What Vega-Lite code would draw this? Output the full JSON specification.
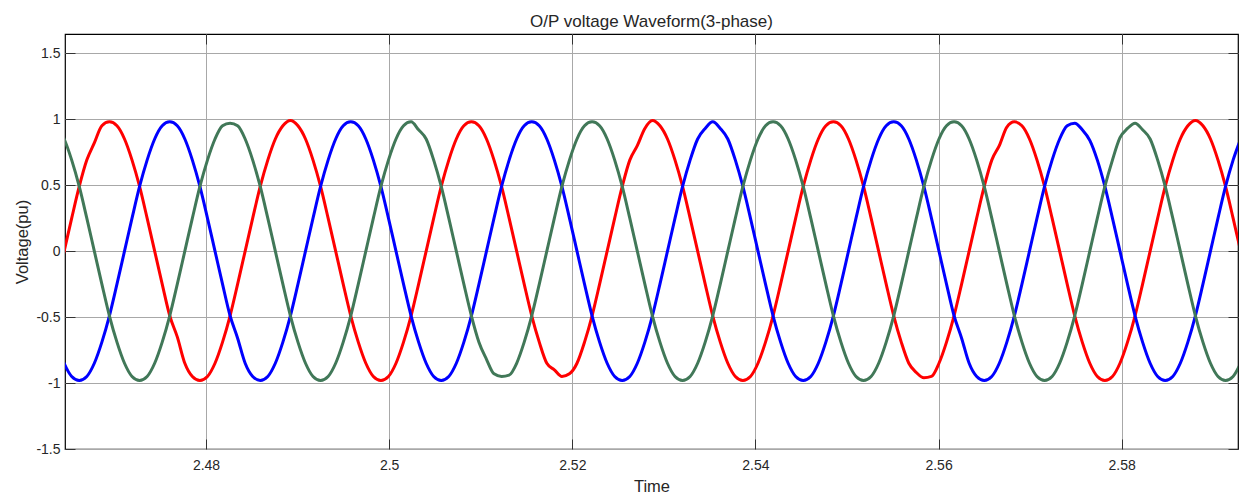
{
"$schema": "https://vega.github.io/schema/vega-lite/v6.json",
"width": 1173,
"height": 415,
"autosize": {"type": "none"},
"padding": {"left": 65, "top": 34, "right": 14, "bottom": 47},
"background": "white",
"title": {"text": "O/P voltage Waveform(3-phase)", "font": "Liberation Sans", "fontSize": 17, "fontWeight": "normal", "color": "#262626", "anchor": "middle", "offset": 3},
"config": {"view": {"stroke": "#000000", "strokeWidth": 1.2}},
"data": {"values": [
{"t":2.463685,"a":-0.25,"b":-0.69,"c":0.95},
{"t":2.464509,"a":0,"b":-0.85,"c":0.85},
{"t":2.465333,"a":0.25,"b":-0.95,"c":0.69},
{"t":2.466156,"a":0.49,"b":-0.98,"c":0.49},
{"t":2.46698,"a":0.69,"b":-0.95,"c":0.25},
{"t":2.467803,"a":0.82,"b":-0.85,"c":0},
{"t":2.468627,"a":0.95,"b":-0.69,"c":-0.25},
{"t":2.46945,"a":0.98,"b":-0.49,"c":-0.49},
{"t":2.470274,"a":0.95,"b":-0.25,"c":-0.69},
{"t":2.471098,"a":0.85,"b":0,"c":-0.85},
{"t":2.471921,"a":0.69,"b":0.25,"c":-0.95},
{"t":2.472745,"a":0.49,"b":0.49,"c":-0.98},
{"t":2.473568,"a":0.25,"b":0.69,"c":-0.95},
{"t":2.474392,"a":0,"b":0.85,"c":-0.85},
{"t":2.475216,"a":-0.25,"b":0.95,"c":-0.69},
{"t":2.476039,"a":-0.49,"b":0.98,"c":-0.49},
{"t":2.476863,"a":-0.65,"b":0.95,"c":-0.25},
{"t":2.477686,"a":-0.85,"b":0.85,"c":0},
{"t":2.47851,"a":-0.95,"b":0.69,"c":0.25},
{"t":2.479333,"a":-0.98,"b":0.49,"c":0.49},
{"t":2.480157,"a":-0.95,"b":0.25,"c":0.69},
{"t":2.480981,"a":-0.85,"b":0,"c":0.85},
{"t":2.481804,"a":-0.69,"b":-0.25,"c":0.95},
{"t":2.482628,"a":-0.49,"b":-0.49,"c":0.97},
{"t":2.483451,"a":-0.25,"b":-0.66,"c":0.95},
{"t":2.484275,"a":0,"b":-0.85,"c":0.85},
{"t":2.485099,"a":0.25,"b":-0.95,"c":0.69},
{"t":2.485922,"a":0.49,"b":-0.98,"c":0.49},
{"t":2.486746,"a":0.69,"b":-0.95,"c":0.25},
{"t":2.487569,"a":0.85,"b":-0.85,"c":0},
{"t":2.488393,"a":0.95,"b":-0.69,"c":-0.25},
{"t":2.489216,"a":0.99,"b":-0.49,"c":-0.49},
{"t":2.49004,"a":0.95,"b":-0.25,"c":-0.69},
{"t":2.490864,"a":0.85,"b":0,"c":-0.85},
{"t":2.491687,"a":0.69,"b":0.25,"c":-0.95},
{"t":2.492511,"a":0.49,"b":0.49,"c":-0.98},
{"t":2.493334,"a":0.25,"b":0.69,"c":-0.95},
{"t":2.494158,"a":0,"b":0.85,"c":-0.85},
{"t":2.494982,"a":-0.25,"b":0.95,"c":-0.69},
{"t":2.495805,"a":-0.49,"b":0.98,"c":-0.49},
{"t":2.496629,"a":-0.69,"b":0.95,"c":-0.25},
{"t":2.497452,"a":-0.85,"b":0.85,"c":0},
{"t":2.498276,"a":-0.95,"b":0.69,"c":0.25},
{"t":2.499099,"a":-0.98,"b":0.49,"c":0.49},
{"t":2.499923,"a":-0.95,"b":0.25,"c":0.69},
{"t":2.500747,"a":-0.85,"b":0,"c":0.85},
{"t":2.50157,"a":-0.69,"b":-0.25,"c":0.95},
{"t":2.502394,"a":-0.49,"b":-0.49,"c":0.98},
{"t":2.503217,"a":-0.25,"b":-0.69,"c":0.92},
{"t":2.504041,"a":0,"b":-0.85,"c":0.85},
{"t":2.504865,"a":0.25,"b":-0.95,"c":0.69},
{"t":2.505688,"a":0.49,"b":-0.98,"c":0.49},
{"t":2.506512,"a":0.69,"b":-0.95,"c":0.25},
{"t":2.507335,"a":0.85,"b":-0.85,"c":0},
{"t":2.508159,"a":0.95,"b":-0.69,"c":-0.25},
{"t":2.508982,"a":0.98,"b":-0.49,"c":-0.49},
{"t":2.509806,"a":0.95,"b":-0.25,"c":-0.69},
{"t":2.51063,"a":0.85,"b":0,"c":-0.82},
{"t":2.511453,"a":0.69,"b":0.25,"c":-0.93},
{"t":2.512277,"a":0.49,"b":0.49,"c":-0.95},
{"t":2.5131,"a":0.25,"b":0.69,"c":-0.94},
{"t":2.513924,"a":0,"b":0.85,"c":-0.85},
{"t":2.514748,"a":-0.25,"b":0.95,"c":-0.69},
{"t":2.515571,"a":-0.49,"b":0.98,"c":-0.49},
{"t":2.516395,"a":-0.69,"b":0.95,"c":-0.25},
{"t":2.517218,"a":-0.85,"b":0.85,"c":0},
{"t":2.518042,"a":-0.9,"b":0.69,"c":0.25},
{"t":2.518865,"a":-0.95,"b":0.49,"c":0.49},
{"t":2.519689,"a":-0.93,"b":0.25,"c":0.69},
{"t":2.520513,"a":-0.85,"b":0,"c":0.85},
{"t":2.521336,"a":-0.69,"b":-0.25,"c":0.95},
{"t":2.52216,"a":-0.49,"b":-0.49,"c":0.98},
{"t":2.522983,"a":-0.25,"b":-0.69,"c":0.95},
{"t":2.523807,"a":0,"b":-0.85,"c":0.85},
{"t":2.524631,"a":0.25,"b":-0.95,"c":0.69},
{"t":2.525454,"a":0.49,"b":-0.98,"c":0.49},
{"t":2.526278,"a":0.69,"b":-0.95,"c":0.25},
{"t":2.527101,"a":0.8,"b":-0.85,"c":0},
{"t":2.527925,"a":0.93,"b":-0.69,"c":-0.25},
{"t":2.528748,"a":0.99,"b":-0.49,"c":-0.49},
{"t":2.529572,"a":0.95,"b":-0.25,"c":-0.69},
{"t":2.530396,"a":0.85,"b":0,"c":-0.85},
{"t":2.531219,"a":0.69,"b":0.25,"c":-0.95},
{"t":2.532043,"a":0.49,"b":0.49,"c":-0.98},
{"t":2.532866,"a":0.25,"b":0.69,"c":-0.95},
{"t":2.53369,"a":0,"b":0.85,"c":-0.85},
{"t":2.534514,"a":-0.25,"b":0.93,"c":-0.69},
{"t":2.535337,"a":-0.49,"b":0.98,"c":-0.49},
{"t":2.536161,"a":-0.69,"b":0.93,"c":-0.25},
{"t":2.536984,"a":-0.85,"b":0.85,"c":0},
{"t":2.537808,"a":-0.95,"b":0.69,"c":0.25},
{"t":2.538631,"a":-0.98,"b":0.49,"c":0.49},
{"t":2.539455,"a":-0.95,"b":0.25,"c":0.69},
{"t":2.540279,"a":-0.85,"b":0,"c":0.85},
{"t":2.541102,"a":-0.69,"b":-0.25,"c":0.95},
{"t":2.541926,"a":-0.49,"b":-0.49,"c":0.98},
{"t":2.542749,"a":-0.25,"b":-0.69,"c":0.95},
{"t":2.543573,"a":0,"b":-0.85,"c":0.85},
{"t":2.544397,"a":0.25,"b":-0.95,"c":0.69},
{"t":2.54522,"a":0.49,"b":-0.98,"c":0.49},
{"t":2.546044,"a":0.69,"b":-0.95,"c":0.25},
{"t":2.546867,"a":0.85,"b":-0.85,"c":0},
{"t":2.547691,"a":0.95,"b":-0.69,"c":-0.25},
{"t":2.548514,"a":0.98,"b":-0.49,"c":-0.49},
{"t":2.549338,"a":0.95,"b":-0.25,"c":-0.69},
{"t":2.550162,"a":0.85,"b":0,"c":-0.85},
{"t":2.550985,"a":0.69,"b":0.25,"c":-0.95},
{"t":2.551809,"a":0.49,"b":0.49,"c":-0.98},
{"t":2.552632,"a":0.25,"b":0.69,"c":-0.95},
{"t":2.553456,"a":0,"b":0.85,"c":-0.85},
{"t":2.55428,"a":-0.25,"b":0.95,"c":-0.69},
{"t":2.555103,"a":-0.49,"b":0.98,"c":-0.49},
{"t":2.555927,"a":-0.69,"b":0.95,"c":-0.25},
{"t":2.55675,"a":-0.85,"b":0.85,"c":0},
{"t":2.557574,"a":-0.92,"b":0.69,"c":0.25},
{"t":2.558397,"a":-0.96,"b":0.49,"c":0.49},
{"t":2.559221,"a":-0.95,"b":0.25,"c":0.69},
{"t":2.560045,"a":-0.85,"b":0,"c":0.85},
{"t":2.560868,"a":-0.69,"b":-0.25,"c":0.95},
{"t":2.561692,"a":-0.49,"b":-0.49,"c":0.98},
{"t":2.562515,"a":-0.25,"b":-0.66,"c":0.95},
{"t":2.563339,"a":0,"b":-0.85,"c":0.85},
{"t":2.564163,"a":0.25,"b":-0.95,"c":0.69},
{"t":2.564986,"a":0.49,"b":-0.98,"c":0.49},
{"t":2.56581,"a":0.69,"b":-0.95,"c":0.25},
{"t":2.566633,"a":0.8,"b":-0.85,"c":0},
{"t":2.567457,"a":0.94,"b":-0.69,"c":-0.25},
{"t":2.56828,"a":0.98,"b":-0.49,"c":-0.49},
{"t":2.569104,"a":0.95,"b":-0.25,"c":-0.69},
{"t":2.569928,"a":0.85,"b":0,"c":-0.85},
{"t":2.570751,"a":0.69,"b":0.25,"c":-0.95},
{"t":2.571575,"a":0.49,"b":0.49,"c":-0.98},
{"t":2.572398,"a":0.25,"b":0.69,"c":-0.95},
{"t":2.573222,"a":0,"b":0.85,"c":-0.85},
{"t":2.574046,"a":-0.25,"b":0.95,"c":-0.69},
{"t":2.574869,"a":-0.49,"b":0.97,"c":-0.49},
{"t":2.575693,"a":-0.69,"b":0.92,"c":-0.25},
{"t":2.576516,"a":-0.85,"b":0.84,"c":0},
{"t":2.57734,"a":-0.95,"b":0.69,"c":0.25},
{"t":2.578163,"a":-0.98,"b":0.49,"c":0.49},
{"t":2.578987,"a":-0.95,"b":0.25,"c":0.69},
{"t":2.579811,"a":-0.85,"b":0,"c":0.86},
{"t":2.580634,"a":-0.69,"b":-0.25,"c":0.93},
{"t":2.581458,"a":-0.49,"b":-0.49,"c":0.97},
{"t":2.582281,"a":-0.25,"b":-0.69,"c":0.92},
{"t":2.583105,"a":0,"b":-0.85,"c":0.85},
{"t":2.583929,"a":0.25,"b":-0.95,"c":0.69},
{"t":2.584752,"a":0.49,"b":-0.98,"c":0.49},
{"t":2.585576,"a":0.69,"b":-0.95,"c":0.25},
{"t":2.586399,"a":0.85,"b":-0.85,"c":0},
{"t":2.587223,"a":0.95,"b":-0.69,"c":-0.25},
{"t":2.588046,"a":0.99,"b":-0.49,"c":-0.49},
{"t":2.58887,"a":0.95,"b":-0.25,"c":-0.69},
{"t":2.589694,"a":0.85,"b":0,"c":-0.85},
{"t":2.590517,"a":0.69,"b":0.25,"c":-0.95},
{"t":2.591341,"a":0.49,"b":0.49,"c":-0.98},
{"t":2.592164,"a":0.25,"b":0.69,"c":-0.95},
{"t":2.592988,"a":0,"b":0.85,"c":-0.85}
]},
"transform": [{"fold": ["a", "b", "c"], "as": ["phase", "v"]}],
"layer": [
{
"mark": {"type": "line", "interpolate": "monotone", "strokeWidth": 3, "clip": true},
"encoding": {
"x": {"field": "t", "type": "quantitative", "scale": {"domain": [2.4646, 2.5927], "nice": false, "zero": false},
"axis": {"orient": "bottom", "values": [2.48, 2.5, 2.52, 2.54, 2.56, 2.58], "labelExpr": "toString(datum.value)", "title": "Time", "grid": true, "gridColor": "#a8a8a8", "gridWidth": 1, "domain": false, "tickSize": -10, "tickColor": "#333333", "labelFont": "Liberation Sans", "labelFontSize": 14, "labelColor": "#262626", "labelPadding": 19, "labelFlush": false, "titleFont": "Liberation Sans", "titleFontSize": 16.5, "titleFontWeight": "normal", "titleColor": "#262626", "titlePadding": 6}},
"y": {"field": "v", "type": "quantitative", "scale": {"domain": [-1.5, 1.646], "nice": false, "zero": false},
"axis": {"orient": "left", "values": [-1.5, -1, -0.5, 0, 0.5, 1, 1.5], "labelExpr": "toString(datum.value)", "title": "Voltage(pu)", "grid": true, "gridColor": "#a8a8a8", "gridWidth": 1, "domain": false, "tickSize": -10, "tickColor": "#333333", "labelFont": "Liberation Sans", "labelFontSize": 14, "labelColor": "#262626", "labelPadding": 15, "labelFlush": false, "titleFont": "Liberation Sans", "titleFontSize": 16.5, "titleFontWeight": "normal", "titleColor": "#262626", "titlePadding": 5}},
"color": {"field": "phase", "type": "nominal", "scale": {"domain": ["a", "b", "c"], "range": ["#ff0000", "#0000ff", "#417858"]}, "legend": null}
}
},
{
"mark": {"type": "line", "opacity": 0, "clip": true},
"encoding": {
"x": {"field": "t", "type": "quantitative", "axis": {"orient": "top", "values": [2.48, 2.5, 2.52, 2.54, 2.56, 2.58], "labels": false, "title": null, "grid": false, "domain": false, "tickSize": -10, "tickColor": "#333333"}},
"y": {"field": "v", "type": "quantitative", "axis": {"orient": "right", "values": [-1.5, -1, -0.5, 0, 0.5, 1, 1.5], "labels": false, "title": null, "grid": false, "domain": false, "tickSize": -10, "tickColor": "#333333"}},
"detail": {"field": "phase", "type": "nominal"}
}
}
],
"resolve": {"axis": {"x": "independent", "y": "independent"}}
}
